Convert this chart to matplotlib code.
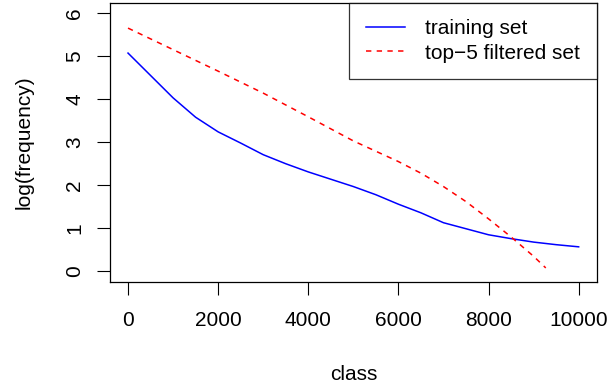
import matplotlib.pyplot as plt

# values
train_class = [0, 500, 1000, 1500, 2000, 2500, 3000, 3500, 4000, 4500, 5000,
               5500, 6000, 6500, 7000, 7500, 8000, 8500, 9000, 9500, 10000]
train_logfreq = [5.07, 4.55, 4.03, 3.58, 3.24, 2.98, 2.71, 2.50, 2.31, 2.14, 1.97,
                 1.78, 1.56, 1.36, 1.13, 0.99, 0.85, 0.76, 0.68, 0.62, 0.57]

top5_class = [0, 1000, 2000, 3000, 4000, 5000, 6000, 6500, 7000, 7500, 8000,
              8500, 9000, 9270]
top5_logfreq = [5.65, 5.15, 4.65, 4.14, 3.59, 3.03, 2.55, 2.28, 1.97, 1.62, 1.22,
                0.80, 0.35, 0.08]

xticks = [0, 2000, 4000, 6000, 8000, 10000]
yticks = [0, 1, 2, 3, 4, 5, 6]

plt.rcParams['font.family'] = ['Liberation Sans', 'DejaVu Sans']
fs = 15

fig = plt.figure(figsize=(6.08, 3.85), dpi=100)
ax = fig.add_axes([0.1809, 0.2683, 0.8005, 0.7247])

ax.plot(train_class, train_logfreq, color='blue', lw=1.1, label='training set')
ax.plot(top5_class, top5_logfreq, color='red', lw=1.1, dashes=(3.5, 3.5),
        label='top\u22125 filtered set')

# R-style 4% padding around the data range
ax.set_xlim(-400, 10400)
ax.set_ylim(-0.24, 6.24)
ax.set_xticks(xticks)
ax.set_yticks(yticks)
ax.tick_params(direction='out', length=9.4, width=0.8, labelsize=fs)
ax.tick_params(axis='x', pad=12)
ax.tick_params(axis='y', pad=9)
for lab in ax.get_yticklabels():
    lab.set_rotation(90)
    lab.set_va('center')

for s in ax.spines.values():
    s.set_linewidth(0.9)

ax.set_xlabel('class', fontsize=fs, labelpad=25)
ax.set_ylabel('log(frequency)', fontsize=fs, labelpad=23)

leg = ax.legend(loc='upper right', fontsize=fs, borderaxespad=0, fancybox=False,
                frameon=True, handlelength=1.9, handletextpad=0.95,
                borderpad=0.8, labelspacing=0.25)
leg.get_frame().set_edgecolor('black')
leg.get_frame().set_linewidth(0.9)

plt.savefig('out.png', dpi=100)
